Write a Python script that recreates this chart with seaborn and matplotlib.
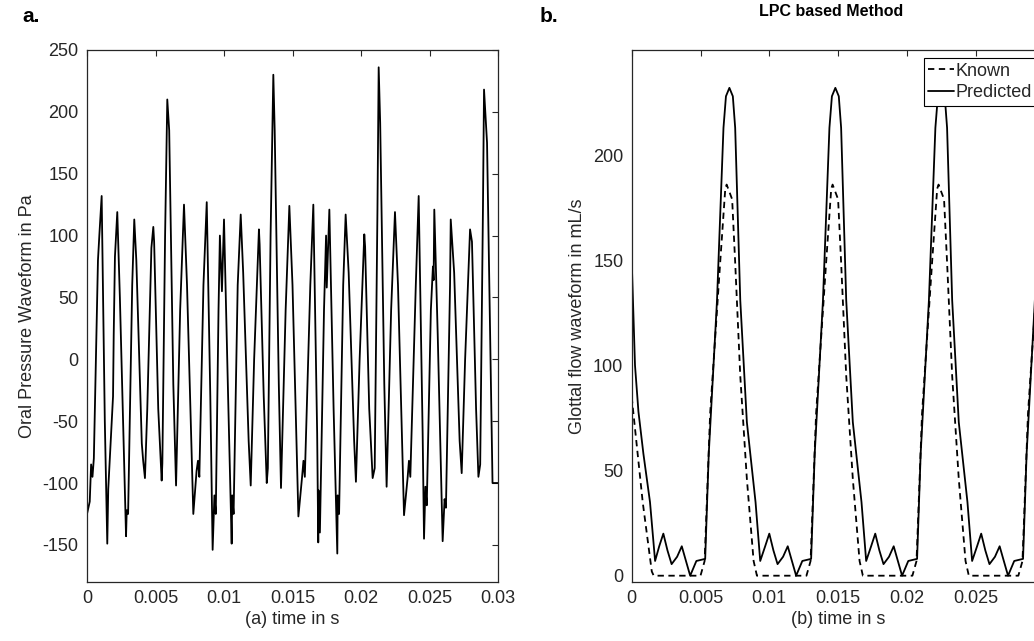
import numpy as np
import pandas as pd
import matplotlib
matplotlib.use('Agg')
import matplotlib.pyplot as plt
import seaborn as sns

sns.set_theme(style='white')
plt.rcParams['font.family'] = ['Liberation Sans', 'DejaVu Sans']
plt.rcParams['axes.unicode_minus'] = False

# panel a: oral pressure waveform
t_oral = [0.0, 0.0002, 0.0003, 0.0004, 0.0005, 0.0008, 0.0009, 0.00107, 0.0013, 0.00148,
          0.00155, 0.0019, 0.00195, 0.00204, 0.00221, 0.0024, 0.00285, 0.0029, 0.003, 0.0033,
          0.00345, 0.0036, 0.004, 0.0041, 0.00423, 0.0044, 0.0047, 0.00484, 0.0049, 0.0052,
          0.00545, 0.0055, 0.0057, 0.00586, 0.006, 0.0063, 0.0065, 0.0068, 0.00708, 0.0073,
          0.00776, 0.008, 0.0081, 0.0082, 0.0085, 0.00874, 0.009, 0.00917, 0.0093, 0.0094,
          0.0096, 0.0097, 0.00985, 0.01, 0.0103, 0.01056, 0.0106, 0.0107, 0.011, 0.01122,
          0.0114, 0.0118, 0.01195, 0.0122, 0.01255, 0.0126, 0.0129, 0.01312, 0.0132, 0.0134,
          0.0136, 0.0137, 0.014, 0.01416, 0.0145, 0.01477, 0.015, 0.01543, 0.0157, 0.0158,
          0.0159, 0.0163, 0.01652, 0.0168, 0.01688, 0.0169, 0.017, 0.0173, 0.01745, 0.0175,
          0.01769, 0.018, 0.01827, 0.0183, 0.0184, 0.0187, 0.01888, 0.0191, 0.0195, 0.01963,
          0.0199, 0.02024, 0.0203, 0.0206, 0.02085, 0.021, 0.0212, 0.02129, 0.0214, 0.0217,
          0.02187, 0.0222, 0.02248, 0.0227, 0.02314, 0.0234, 0.0235, 0.0236, 0.024, 0.02421,
          0.0245, 0.0246, 0.0247, 0.0248, 0.0251, 0.02525, 0.0253, 0.02535, 0.0256, 0.02596,
          0.0261, 0.0262, 0.0265, 0.02655, 0.0268, 0.0272, 0.02735, 0.0276, 0.02796, 0.0281,
          0.0284, 0.02857, 0.0287, 0.0289, 0.02898, 0.0292, 0.0296, 0.03]
p_oral = [-125, -115, -85, -95, -80, 80, 100, 132, -50, -149,
          -105, -30, 20, 83, 119, 50, -143, -122, -125, 60,
          113, 80, -68, -82, -96, -40, 90, 107, 95, -40,
          -98, -84, 100, 210, 185, -20, -102, 40, 125, 60,
          -125, -90, -82, -95, 60, 127, -30, -154, -110, -125,
          40, 100, 55, 113, -30, -149, -110, -125, 60, 117,
          70, -66, -102, 0, 105, 93, -30, -100, -88, 100,
          230, 185, -20, -104, 40, 124, 60, -127, -95, -82,
          -95, 60, 125, -60, -148, -106, -140, 40, 100, 58,
          121, -40, -157, -110, -125, 60, 117, 70, -66, -99,
          0, 101, 91, -40, -96, -88, 120, 236, 191, -20,
          -103, 40, 119, 60, -126, -96, -82, -95, 60, 132,
          -60, -145, -103, -118, 40, 75, 64, 121, 20, -147,
          -113, -120, 60, 113, 70, -66, -92, 0, 105, 95,
          -40, -95, -85, 120, 218, 175, -100, -100]

# panel b: glottal flow, predicted (solid)
t_pred = [0.0, 0.00024, 0.00049, 0.00085, 0.00133, 0.0017, 0.002, 0.0023, 0.0026, 0.0029,
          0.0033, 0.00364, 0.0039, 0.00425, 0.0047, 0.00534, 0.0056, 0.0062, 0.00667, 0.00685,
          0.0071, 0.00735, 0.00752, 0.00789, 0.00837, 0.009, 0.00934, 0.0097, 0.01, 0.0103,
          0.0106, 0.011, 0.01134, 0.0116, 0.01195, 0.0124, 0.01304, 0.0133, 0.0139, 0.01437,
          0.01455, 0.0148, 0.01505, 0.01522, 0.01559, 0.01607, 0.0167, 0.01704, 0.0174, 0.0177,
          0.018, 0.0183, 0.0187, 0.01904, 0.0193, 0.01965, 0.0201, 0.02074, 0.021, 0.0216,
          0.02207, 0.02225, 0.0225, 0.02275, 0.02292, 0.02329, 0.02377, 0.0244, 0.02474, 0.0251,
          0.0254, 0.0257, 0.026, 0.0264, 0.02674, 0.027, 0.02735, 0.0278, 0.02844, 0.0287,
          0.0293, 0.03]
f_pred = [150, 100, 78, 58, 35, 7, 14, 20, 12, 5.5,
          9, 14, 8, 0, 7, 8, 58, 131, 213, 228,
          232, 228, 213, 131, 73, 35, 7, 14, 20, 12,
          5.5, 9, 14, 8, 0, 7, 8, 58, 131, 213,
          228, 232, 228, 213, 131, 73, 35, 7, 14, 20,
          12, 5.5, 9, 14, 8, 0, 7, 8, 58, 131,
          213, 228, 232, 228, 213, 131, 73, 35, 7, 14,
          20, 12, 5.5, 9, 14, 8, 0, 7, 8, 58,
          131, 232]

# panel b: glottal flow, known (dashed)
t_known = [0.0, 0.0004, 0.0008, 0.0011, 0.00146, 0.0016, 0.005, 0.0053, 0.0057, 0.00643,
           0.0068, 0.0069, 0.0073, 0.00752, 0.00789, 0.00837, 0.00886, 0.0091, 0.0127, 0.013,
           0.0134, 0.01413, 0.0145, 0.0146, 0.015, 0.01522, 0.01559, 0.01607, 0.01656, 0.0168,
           0.0204, 0.0207, 0.0211, 0.02183, 0.0222, 0.0223, 0.0227, 0.02292, 0.02329, 0.02377,
           0.02426, 0.0245, 0.0281, 0.0284, 0.0288, 0.02953, 0.0299]
f_known = [85, 60, 35, 20, 2, 0, 0, 7, 77, 149,
           184, 186, 179, 149, 95, 46, 7, 0, 0, 7,
           77, 149, 184, 186, 179, 149, 95, 46, 7, 0,
           0, 7, 77, 149, 184, 186, 179, 149, 95, 46,
           7, 0, 0, 7, 77, 149, 184]

x_ticks = [0, 0.005, 0.01, 0.015, 0.02, 0.025, 0.03]
x_ticklabels = ['0', '0.005', '0.01', '0.015', '0.02', '0.025', '0.03']

df_a = pd.DataFrame({'t': t_oral, 'p': p_oral})
df_pred = pd.DataFrame({'t': t_pred, 'f': f_pred})
df_known = pd.DataFrame({'t': t_known, 'f': f_known})

W, H = 1034, 641
fig = plt.figure(figsize=(W / 100, H / 100), dpi=100)
ax1 = fig.add_axes([87 / W, 59 / H, 411 / W, 532 / H])
ax2 = fig.add_axes([631.7 / W, 59 / H, 412.8 / W, 532 / H])

grey = '#262626'
fs = 13

sns.lineplot(data=df_a, x='t', y='p', ax=ax1, color='black', lw=1.3, sort=False,
             estimator=None)
ax1.set_xlim(0, 0.03)
ax1.set_ylim(-180, 250)
ax1.set_yticks(range(-150, 251, 50))
ax1.set_xticks(x_ticks)
ax1.set_xticklabels(x_ticklabels)
ax1.set_xlabel('(a) time in s', fontsize=fs, color=grey, labelpad=3)
ax1.set_ylabel('Oral Pressure Waveform in Pa', fontsize=fs, color=grey, labelpad=5)

sns.lineplot(data=df_known, x='t', y='f', ax=ax2, color='black', lw=1.3, sort=False,
             estimator=None, label='Known')
sns.lineplot(data=df_pred, x='t', y='f', ax=ax2, color='black', lw=1.3, sort=False,
             estimator=None, label='Predicted')
ax2.lines[0].set_dashes([3.5, 2.5])
ax2.set_xlim(0, 0.03)
ax2.set_ylim(-3, 250)
ax2.set_yticks(range(0, 201, 50))
ax2.set_xticks(x_ticks[:-1])
ax2.set_xticklabels(x_ticklabels[:-1])
ax2.set_xlabel('(b) time in s', fontsize=fs, color=grey, labelpad=3)
ax2.set_ylabel('Glottal flow waveform in mL/s', fontsize=fs, color=grey, labelpad=5)

for ax in (ax1, ax2):
    ax.tick_params(direction='in', length=4, width=0.8, colors=grey, labelsize=fs,
                   top=True, right=True, pad=6)
    for s in ax.spines.values():
        s.set_color(grey)
        s.set_linewidth(0.9)

leg = ax2.legend(loc='upper right', fontsize=fs, frameon=True, fancybox=False,
                 handlelength=1.4, handletextpad=0.1, borderpad=0.25,
                 labelspacing=0.25, borderaxespad=0.45)
leg.get_frame().set_edgecolor('black')
leg.get_frame().set_linewidth(0.8)
leg.get_frame().set_alpha(1)

fig.text(831 / W, 1 - 12 / H, 'LPC based Method', ha='center', va='center',
         fontsize=11.5, fontweight='bold', color='black')
fig.text(22 / W, 1 - 16 / H, 'a.', ha='left', va='center', fontsize=15,
         fontweight='bold', color='black')
fig.text(540 / W, 1 - 16 / H, 'b.', ha='left', va='center', fontsize=15,
         fontweight='bold', color='black')

fig.savefig('out.png', dpi=100)
plt.close(fig)
